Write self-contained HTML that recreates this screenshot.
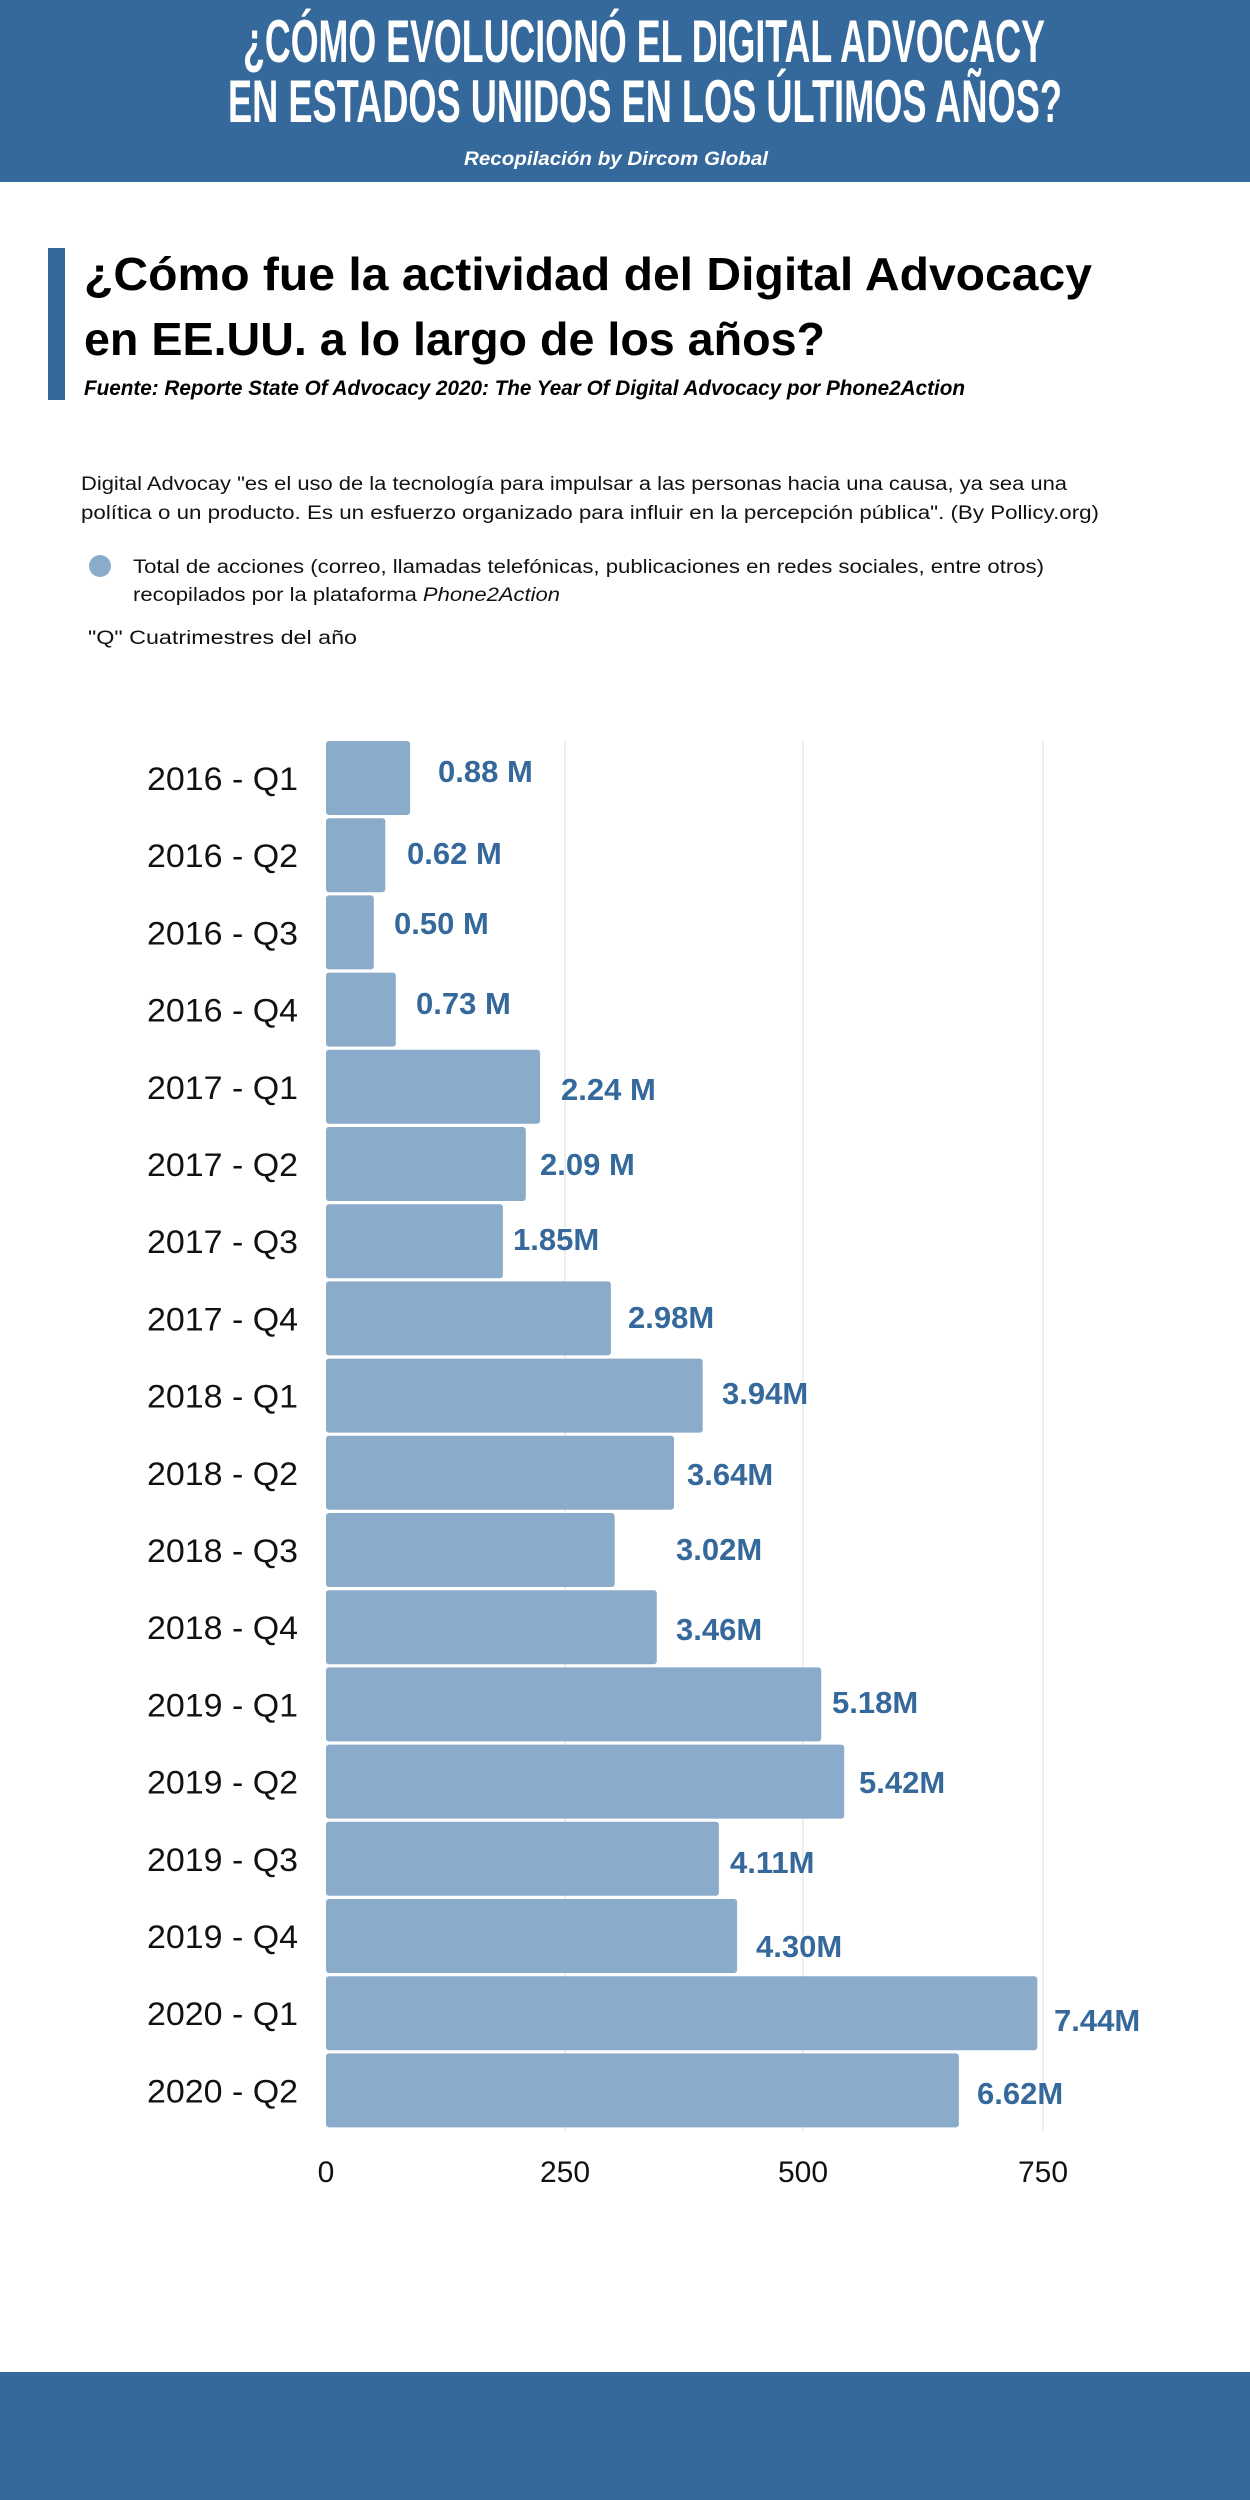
<!DOCTYPE html>
<html><head><meta charset="utf-8"><style>
html,body{margin:0;padding:0;background:#fff}
svg{display:block}
</style></head><body>
<svg width="1250" height="2500" viewBox="0 0 1250 2500" xmlns="http://www.w3.org/2000/svg">
<rect x="0" y="0" width="1250" height="182" fill="#35689b"/>
<g font-family="Liberation Sans Narrow, Liberation Sans, sans-serif" font-weight="bold" fill="#fff">
<text x="243" y="62" font-size="60" textLength="802" lengthAdjust="spacingAndGlyphs">¿CÓMO EVOLUCIONÓ EL DIGITAL ADVOCACY</text>
<text x="228" y="122" font-size="60" textLength="834" lengthAdjust="spacingAndGlyphs">EN ESTADOS UNIDOS EN LOS ÚLTIMOS AÑOS?</text>
</g>
<text x="464" y="165" font-family="Liberation Sans, sans-serif" font-weight="bold" font-style="italic" font-size="19" fill="#fff" textLength="304" lengthAdjust="spacingAndGlyphs">Recopilación by Dircom Global</text>

<rect x="48" y="248" width="17" height="152" fill="#35689b"/>
<g font-family="Liberation Sans, sans-serif" font-weight="bold" fill="#000">
<text x="84" y="290" font-size="46" textLength="1008" lengthAdjust="spacingAndGlyphs">¿Cómo fue la actividad del Digital Advocacy</text>
<text x="84" y="355" font-size="46" textLength="741" lengthAdjust="spacingAndGlyphs">en EE.UU. a lo largo de los años?</text>
<text x="84" y="395" font-size="21" font-style="italic" textLength="881" lengthAdjust="spacingAndGlyphs">Fuente: Reporte State Of Advocacy 2020: The Year Of Digital Advocacy por Phone2Action</text>
</g>
<g font-family="Liberation Sans, sans-serif" font-size="19" fill="#111">
<text x="81" y="490" textLength="986" lengthAdjust="spacingAndGlyphs">Digital Advocay "es el uso de la tecnología para impulsar a las personas hacia una causa, ya sea una</text>
<text x="81" y="519" textLength="1018" lengthAdjust="spacingAndGlyphs">política o un producto. Es un esfuerzo organizado para influir en la percepción pública". (By Pollicy.org)</text>
<circle cx="100" cy="566" r="11" fill="#8aabc9"/>
<text x="133" y="573" textLength="911" lengthAdjust="spacingAndGlyphs">Total de acciones (correo, llamadas telefónicas, publicaciones en redes sociales, entre otros)</text>
<text x="133" y="601" textLength="427" lengthAdjust="spacingAndGlyphs">recopilados por la plataforma <tspan font-style="italic">Phone2Action</tspan></text>
<text x="88" y="644" textLength="269" lengthAdjust="spacingAndGlyphs">"Q"  Cuatrimestres del año</text>
</g>

<g stroke="#e8e8e8" stroke-width="1.5">
<line x1="565" y1="741" x2="565" y2="2131"/>
<line x1="803" y1="741" x2="803" y2="2131"/>
<line x1="1043" y1="741" x2="1043" y2="2131"/>
</g>
<g id="bars" fill="#8aabc9"></g>
<g id="cats" font-family="Liberation Sans, sans-serif" font-size="32" fill="#111"></g>
<g id="vals" font-family="Liberation Sans, sans-serif" font-size="31" font-weight="bold" fill="#35689b"></g>
<g font-family="Liberation Sans, sans-serif" font-size="30" fill="#111" text-anchor="middle">
<text x="326" y="2182">0</text>
<text x="565" y="2182">250</text>
<text x="803" y="2182">500</text>
<text x="1043" y="2182">750</text>
</g>

<rect x="0" y="2372" width="1250" height="128" fill="#35689b"/>
<script>
var cats=["2016 - Q1","2016 - Q2","2016 - Q3","2016 - Q4","2017 - Q1","2017 - Q2","2017 - Q3","2017 - Q4","2018 - Q1","2018 - Q2","2018 - Q3","2018 - Q4","2019 - Q1","2019 - Q2","2019 - Q3","2019 - Q4","2020 - Q1","2020 - Q2"];
var v=[88,62,50,73,224,209,185,298,394,364,302,346,518,542,411,430,744,662];
var lab=["0.88 M","0.62 M","0.50 M","0.73 M","2.24 M","2.09 M","1.85M","2.98M","3.94M","3.64M","3.02M","3.46M","5.18M","5.42M","4.11M","4.30M","7.44M","6.62M"];
var lx=[438,407,394,416,561,540,513,628,722,687,676,676,832,859,730,756,1054,977];
var ly=[771,853,923,1003,1089,1164,1239,1317,1393,1474,1549,1629,1702,1782,1862,1946,2020,2093];
var ns="http://www.w3.org/2000/svg";
function el(t,a,p,txt){var e=document.createElementNS(ns,t);for(var k in a)e.setAttribute(k,a[k]);if(txt)e.textContent=txt;document.getElementById(p).appendChild(e);}
for(var i=0;i<18;i++){
 var y=741+i*77.2;
 el("rect",{x:326,y:y.toFixed(1),width:(v[i]*0.956).toFixed(1),height:74,rx:3},"bars");
 el("text",{x:147,y:(y+37+12).toFixed(1),textLength:151,lengthAdjust:"spacingAndGlyphs"},"cats",cats[i]);
 el("text",{x:lx[i],y:ly[i]+11},"vals",lab[i]);
}
</script>
</svg>
</body></html>
